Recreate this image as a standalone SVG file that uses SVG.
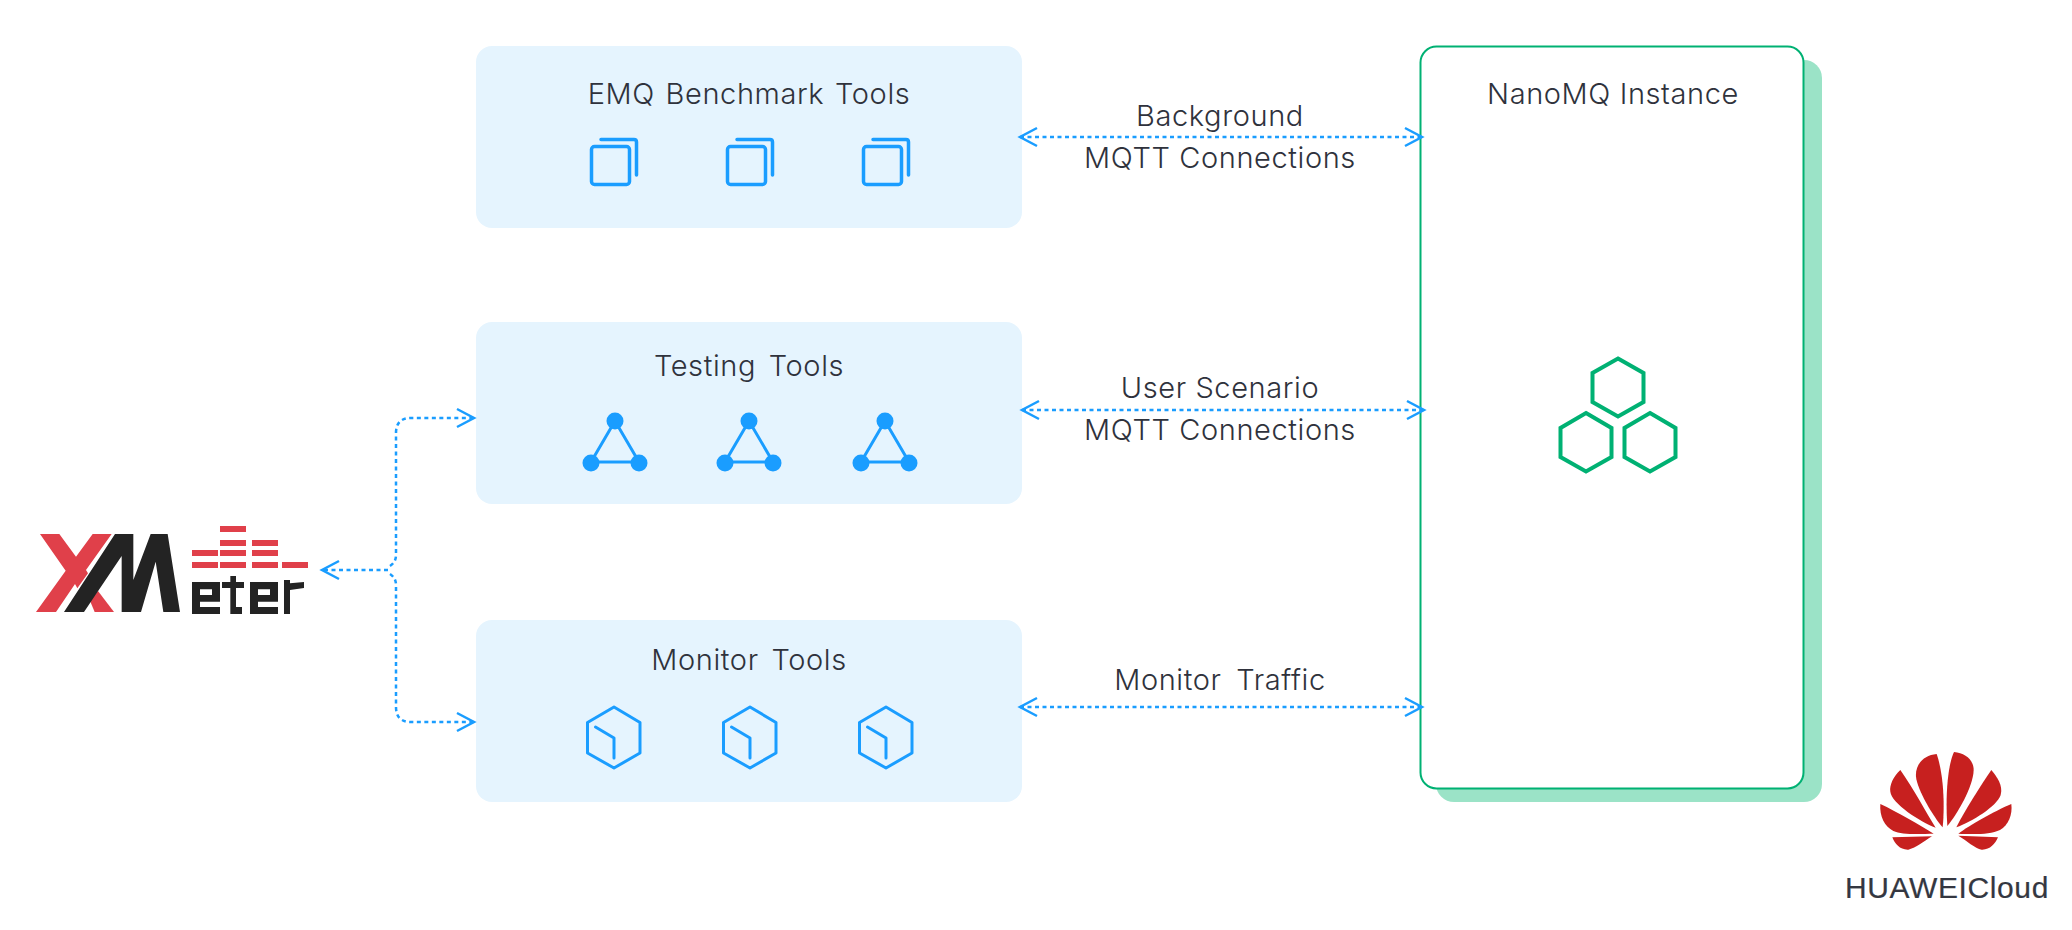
<svg xmlns="http://www.w3.org/2000/svg" xmlns:xlink="http://www.w3.org/1999/xlink" width="2072" height="930" viewBox="0 0 2072 930">
<style>
.bg{fill:#fff}
.box{fill:#e5f4fe}
.lbl{font-family:Inter,"Noto Sans",sans-serif;font-size:29px;font-weight:300;fill:#2f323c;text-anchor:middle;letter-spacing:.6px}
.ws{word-spacing:4px}
.ic{fill:none;stroke:#1a9dff;stroke-width:3.500;stroke-linecap:round;stroke-linejoin:round}
.thin{stroke-width:3}
.dot{fill:#1a9dff}
.hex{fill:none;stroke:#00b173;stroke-width:4;stroke-linejoin:miter}
.con{fill:none;stroke:#1a9dff;stroke-width:2.500;stroke-dasharray:4 3.500;marker-start:url(#a);marker-end:url(#a)}
.con2{fill:none;stroke:#1a9dff;stroke-width:2.500;stroke-dasharray:4 3.500}
.red{fill:#e0404a}
.blk{fill:#232323;fill-rule:evenodd}
.hw{fill:#c7201f}
</style>
<defs>
<marker id="a" markerUnits="userSpaceOnUse" markerWidth="22" markerHeight="24" viewBox="-20 -12 22 24" refX="0" refY="0" orient="auto-start-reverse" overflow="visible">
<path d="M-17,-9L0,0L-17,9" fill="none" stroke="#1a9dff" stroke-width="2.500"/>
</marker>
<g id="copy"><rect x="591.500" y="146.500" width="38" height="38" rx="3" class="ic"/><path d="M601,139.500H634Q636.500,139.500 636.500,142V175" class="ic"/></g>
<g id="tri"><path d="M615,421L591,462H639Z" class="ic thin"/><circle cx="615" cy="421" r="8.500" class="dot"/><circle cx="591" cy="463" r="8.500" class="dot"/><circle cx="639" cy="463" r="8.500" class="dot"/></g>
<g id="cube"><path d="M614,707L640,722.500V753L614,768L587.500,753V722.500Z" class="ic thin"/><path d="M595.500,727L614,738V758" class="ic thin"/></g>
</defs>
<rect class="bg" width="2072" height="930"/>

<g id="emq">
<rect class="box" x="476" y="46" width="546" height="182" rx="16"/>
<text class="lbl" x="749" y="104" style="word-spacing:2px">EMQ Benchmark Tools</text>
<use xlink:href="#copy" href="#copy"/><use xlink:href="#copy" href="#copy" x="136"/><use xlink:href="#copy" href="#copy" x="272"/>
</g>
<g id="testing">
<rect class="box" x="476" y="322" width="546" height="182" rx="16"/>
<text class="lbl ws" x="749" y="376">Testing Tools</text>
<use xlink:href="#tri" href="#tri"/><use xlink:href="#tri" href="#tri" x="134"/><use xlink:href="#tri" href="#tri" x="270"/>
</g>
<g id="monitor">
<rect class="box" x="476" y="620" width="546" height="182" rx="16"/>
<text class="lbl ws" x="749" y="670">Monitor Tools</text>
<use xlink:href="#cube" href="#cube"/><use xlink:href="#cube" href="#cube" x="136"/><use xlink:href="#cube" href="#cube" x="272"/>
</g>
<g id="nanomq">
<rect x="1436" y="60" width="386" height="742" rx="18" fill="#9be3c7"/>
<rect x="1420.500" y="46.500" width="383" height="742" rx="16" fill="#fff" stroke="#00b173" stroke-width="2"/>
<text class="lbl" x="1613" y="104">NanoMQ Instance</text>
<path class="hex" d="M1618,358.500L1643.500,373V402L1618,416.500L1592.500,402V373Z"/>
<path class="hex" d="M1586,413L1611.500,428V457L1586,471.500L1560.500,457V428Z"/>
<path class="hex" d="M1650,413L1675.500,428V457L1650,471.500L1624.500,457V428Z"/>
</g>
<g id="xmeter" transform="translate(0,480) scale(.33333)">
<path class="red" d="M120,162H178L228,230L278,162H335L258,270L264,280L232,325L225,312L168,396H108L197,272Z"/>
<path class="red" d="M270,362L294,333L342,396H284Z"/>
<path class="blk" d="M345,162H400V300L452,162H503L540,396H490L467,245L423,396H365V228L252,396H192Z"/>
<rect class="red" x="660" y="138" width="78" height="18"/>
<rect class="red" x="660" y="180" width="78" height="18"/><rect class="red" x="756" y="180" width="78" height="18"/>
<rect class="red" x="576" y="210" width="78" height="18"/><rect class="red" x="660" y="210" width="78" height="18"/><rect class="red" x="756" y="210" width="78" height="18"/>
<rect class="red" x="576" y="246" width="78" height="18"/><rect class="red" x="660" y="246" width="78" height="18"/><rect class="red" x="756" y="246" width="78" height="18"/><rect class="red" x="846" y="246" width="78" height="18"/>
<path class="blk" d="M576,306H660V365H600V381H660V402H576ZM600,328V345H636V328Z"/>
<path class="blk" d="M691,288H708V306H732V324H708V381H726V402H691V324H666V306H691Z"/>
<path class="blk" d="M750,306H834V365H774V381H834V402H750ZM774,328V345H810V328Z"/>
<path class="blk" d="M852,300H870V310L912,306V324L870,330V402H852Z"/>
</g>
<g id="huawei">
<g transform="translate(1780,720) scale(.33333)">
<path class="hw" d="M470,102C430,105 405,135 408,170C412,210 460,290 488,322C495,250 490,160 470,102Z"/>
<path class="hw" d="M522,96C505,130 495,220 502,318C530,285 580,200 581,150C581,120 555,98 522,96Z"/>
<path class="hw" d="M361,150C340,170 328,195 331,215C335,250 420,305 467,323C440,280 400,205 361,150Z"/>
<path class="hw" d="M634,150C600,200 555,270 529,322C575,305 650,260 662,225C670,195 650,170 634,150Z"/>
<path class="hw" d="M301,252C298,290 315,320 340,333C365,345 420,342 461,341C420,315 350,275 301,252Z"/>
<path class="hw" d="M694,252C640,275 570,315 535,341C575,343 630,345 660,330C685,315 698,285 694,252Z"/>
<path class="hw" d="M337,352L456,349C430,365 405,385 385,389C360,390 345,372 337,352Z"/>
<path class="hw" d="M654,352L535,347C560,362 585,385 605,389C630,390 645,372 654,352Z"/>
</g>
<text x="1947" y="898" font-family="'Liberation Sans',Arial,sans-serif" font-size="30" letter-spacing=".6" stroke="#343741" stroke-width=".2" fill="#343741" text-anchor="middle">HUAWEICloud</text>
</g>
<g id="connectors">
<path class="con" d="M1020,137H1422"/>
<path class="con" d="M1022,410H1424"/>
<path class="con" d="M1020,707H1422"/>
<path class="con2" d="M388,570H322" marker-end="url(#a)"/>
<path class="con2" d="M390,566Q396,562 396,555V433Q396,418 411,418H474" marker-end="url(#a)"/>
<path class="con2" d="M390,574Q396,578 396,585V707Q396,722 411,722H474" marker-end="url(#a)"/>
</g>
<g id="edge-labels">
<text class="lbl" x="1220" y="126">Background</text>
<text class="lbl" x="1220" y="168">MQTT Connections</text>
<text class="lbl" x="1220" y="398">User Scenario</text>
<text class="lbl" x="1220" y="440">MQTT Connections</text>
<text class="lbl" x="1220" y="690" style="word-spacing:6px">Monitor Traffic</text>
</g>
</svg>
